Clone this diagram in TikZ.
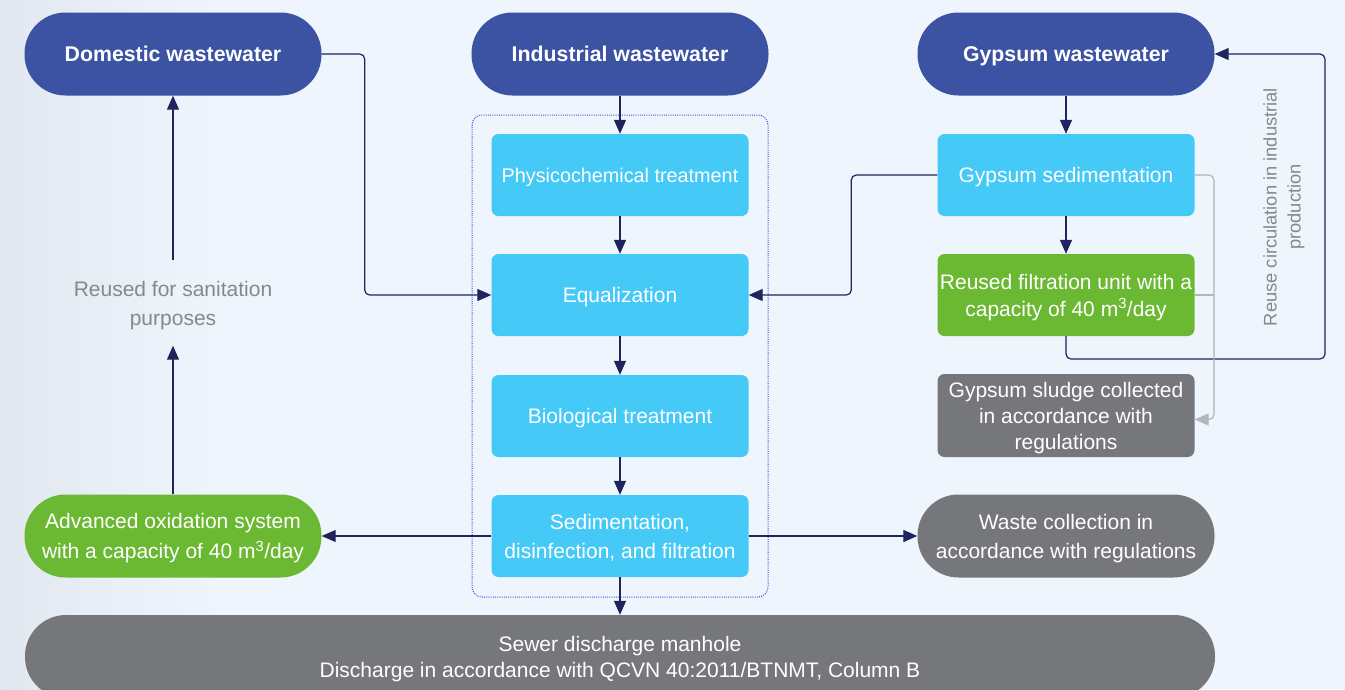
\documentclass[tikz,border=0pt]{standalone}
\usepackage{fontspec}
\setmainfont{Liberation Sans}
\usetikzlibrary{arrows.meta}
\definecolor{navy}{HTML}{3C52A2}
\definecolor{sky}{HTML}{45C9F6}
\definecolor{leaf}{HTML}{6BB833}
\definecolor{slate}{HTML}{76777B}
\definecolor{ink}{HTML}{1F245E}
\definecolor{fog}{HTML}{B3B6BB}
\definecolor{note}{HTML}{86888C}
\definecolor{dotblue}{HTML}{4058D8}
\definecolor{bgA}{HTML}{E1E8F0}
\definecolor{bgB}{HTML}{EEF5FC}
\newcommand{\txt}[1]{\fontsize{21}{#1}\selectfont}
\begin{document}
\begin{tikzpicture}[x=1pt,y=-1pt,
  every node/.style={text depth=0pt},
  pill/.style={rounded corners=41pt, minimum width=297pt, minimum height=83pt,
    text=white, align=center, font=\txt{29}, inner sep=0pt},
  source/.style={pill, fill=navy, font=\fontsize{21.3}{24}\selectfont\bfseries},
  stage/.style={rounded corners=7pt, minimum width=257pt, minimum height=82pt,
    fill=sky, text=white, align=center, font=\txt{29}, inner sep=0pt},
  flow/.style={draw=ink, line width=1.2pt, rounded corners=5pt,
    -{Triangle[length=14pt,width=12pt]}},
  side/.style={draw=fog, line width=1.2pt, rounded corners=5pt},
]
\useasboundingbox (0,0) rectangle (1345,689);
% background wash, slightly darker at the left edge
\fill[bgB] (0,0) rectangle (1345,689);
\shade[left color=bgA, right color=bgB] (0,0) rectangle (220,689);

% sources
\node[source] (dom) at (173,54) {Domestic wastewater};
\node[source] (ind) at (620,54) {Industrial wastewater};
\node[source] (gww) at (1066,54) {Gypsum wastewater};

% treatment line of the industrial stream
\draw[dotblue, line width=1pt, dash pattern=on 1pt off 1.2pt, rounded corners=10pt] (472,115) rectangle (768,597);
\node[stage, font=\fontsize{19.8}{24}\selectfont] (phy) at (620,175) {Physicochemical treatment};
\node[stage] (equ) at (620,295) {Equalization};
\node[stage] (bio) at (620,416) {Biological treatment};
\node[stage] (sed) at (620,536) {Sedimentation,\\disinfection, and filtration};

% gypsum line
\node[stage] (gsed) at (1066,175) {Gypsum sedimentation};
\node[stage, fill=leaf, font=\txt{27}] (filt) at (1066,295)
  {Reused filtration unit with a\\capacity of 40 m\textsuperscript{3}/day};
\node[stage, fill=slate, minimum height=83pt, font=\txt{26}] (sludge) at (1066,415.5)
  {Gypsum sludge collected\\in accordance with\\regulations};

% outlets
\node[pill, fill=leaf, font=\txt{30}] (adv) at (173,536)
  {Advanced oxidation system\\with a capacity of 40 m\textsuperscript{3}/day};
\node[pill, fill=slate] (waste) at (1066,536)
  {Waste collection in\\accordance with regulations};
\node[pill, fill=slate, minimum width=1190pt, font=\txt{26}] (sewer) at (620,656.5)
  {Sewer discharge manhole\\Discharge in accordance with QCVN 40:2011/BTNMT, Column B};

% notes
\node[text=note, align=center, font=\txt{29}, minimum height=85pt, inner sep=0pt]
  (reuse) at (173,303) {Reused for sanitation\\purposes};
\node[text=note, align=center, rotate=90, font=\fontsize{18.3}{24}\selectfont, inner sep=0pt]
  (circ) at (1282,207) {Reuse circulation in industrial\\production};

% connectors
\draw[flow] (ind) -- (phy);
\draw[flow] (phy) -- (equ);
\draw[flow] (equ) -- (bio);
\draw[flow] (bio) -- (sed);
\draw[flow] (sed) -- (sewer);
\draw[flow] (sed) -- (adv);
\draw[flow] (sed) -- (waste);
\draw[flow] (adv) -- (reuse);
\draw[flow] (reuse) -- (dom);
\draw[flow] (dom.east) -- ++(43,0) |- (equ.west);
\draw[flow] (gww) -- (gsed);
\draw[flow] (gsed) -- (filt);
\draw[flow] (gsed.west) -- ++(-86,0) |- (equ.east);
\coordinate (loop) at (1325,359);
\draw[flow] (filt.south) |- (loop) |- (gww.east);
\coordinate (drop) at (1214,175);
\draw[side, -{Triangle[length=14pt,width=12pt]}] (gsed.east) -- (drop) |- ([yshift=-4pt]sludge.east);
\draw[side] (filt.east) -- (filt.east -| drop);
\end{tikzpicture}
\end{document}
